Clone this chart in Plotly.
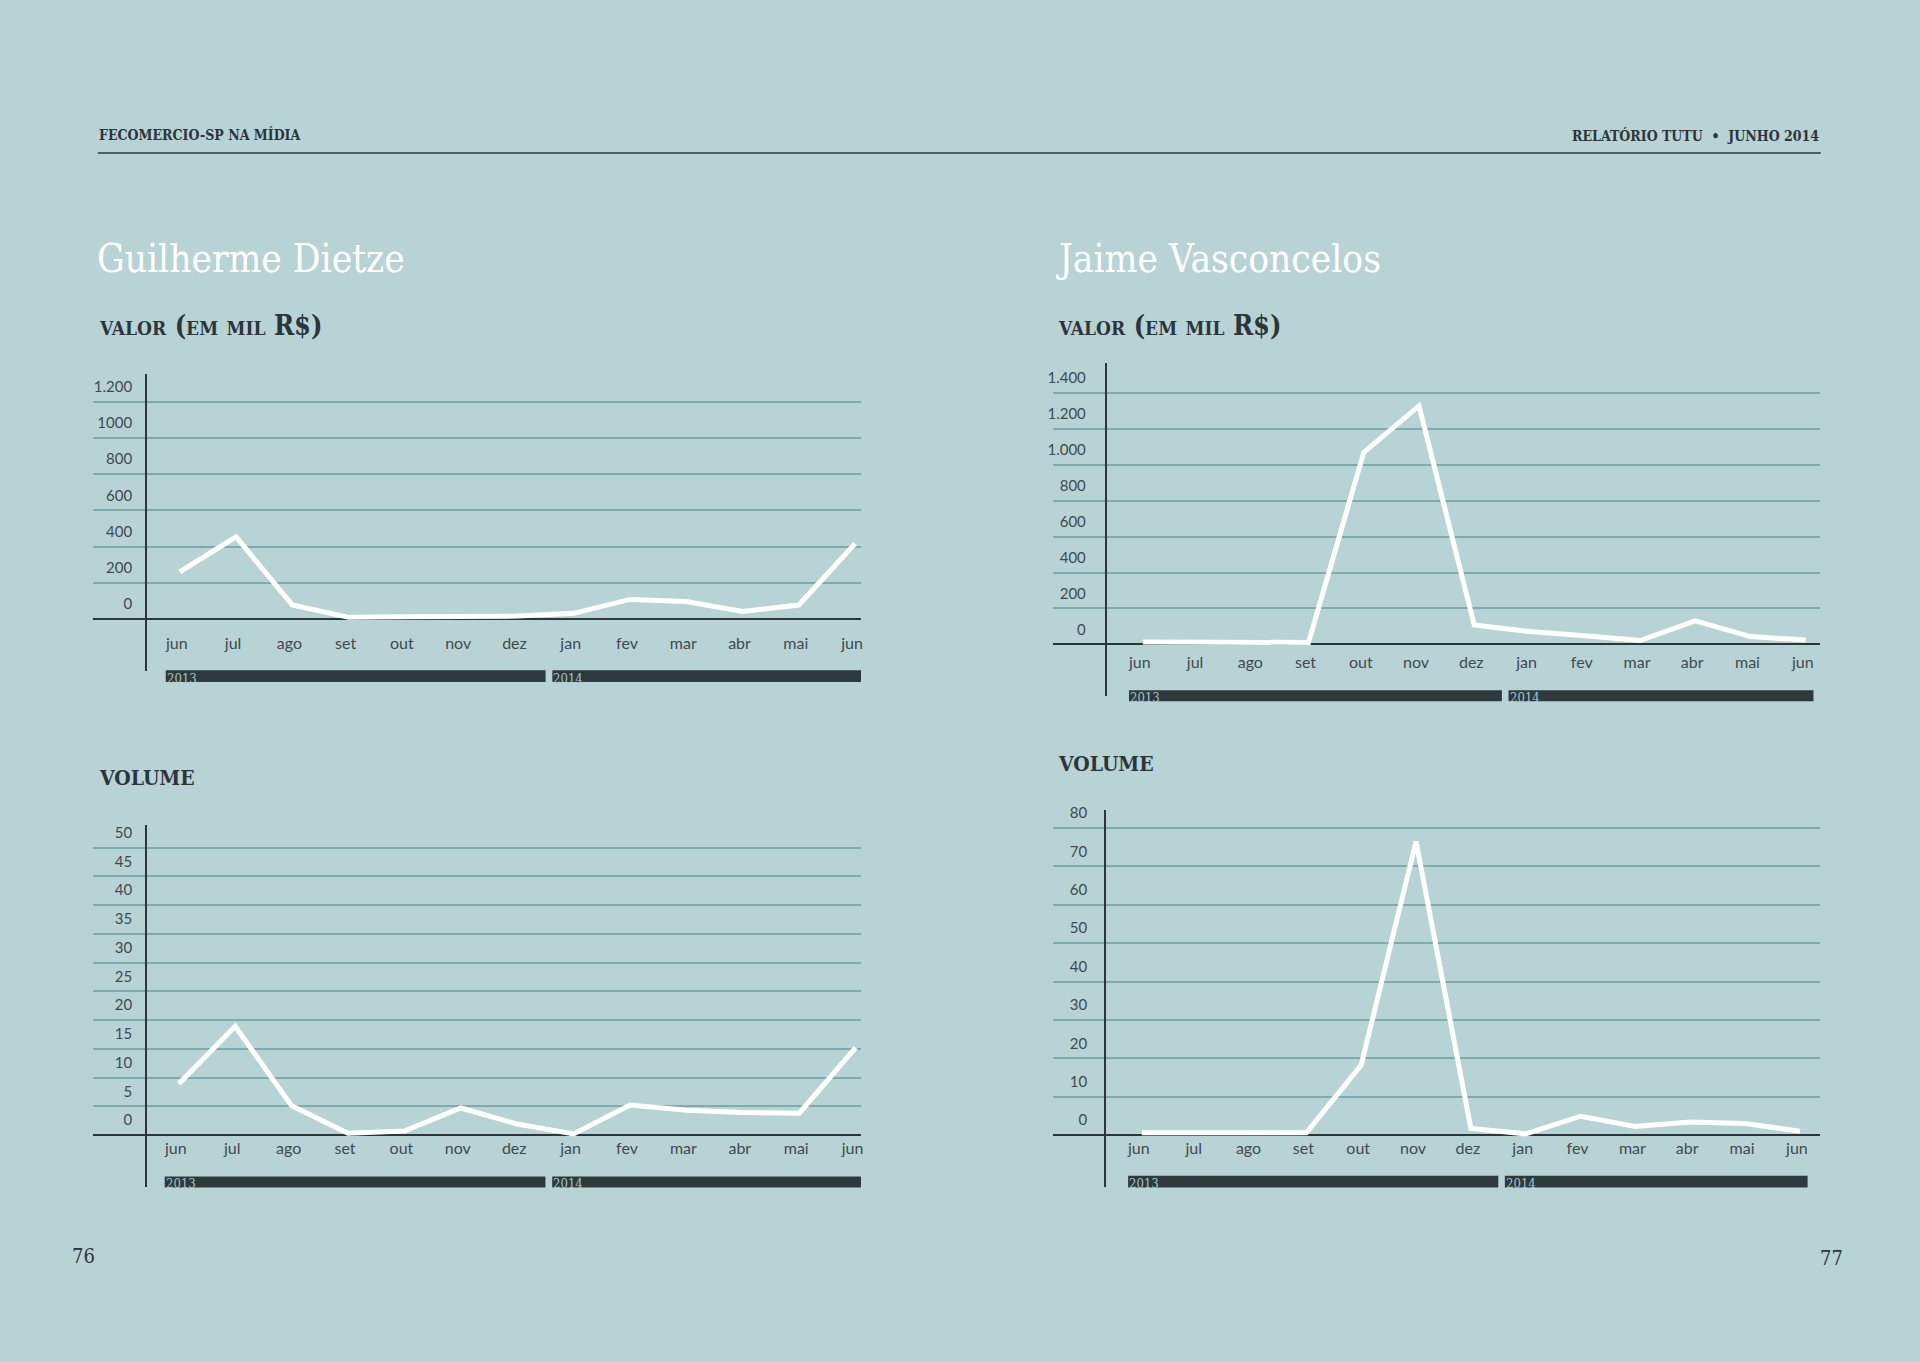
import plotly.graph_objects as go

W, H = 1920, 1362


def fx(x):
    return x / W


def fy(y):
    return 1 - y / H


# ---------------- data ----------------
months = ["jun", "jul", "ago", "set", "out", "nov", "dez",
          "jan", "fev", "mar", "abr", "mai", "jun"]
years = ["2013", "2014"]
year_first_idx = [0, 7]
year_last_idx = [6, 12]

gd_valor = [260, 453, 77, 9, 13, 13, 16, 31, 108, 96, 41, 77, 416]
gd_volume = [8.9, 18.9, 5.1, 0.3, 0.7, 4.7, 1.9, 0.2, 5.2, 4.3, 3.9, 3.8, 15.2]
jv_valor = [14, 13, 11, 11, 1068, 1326, 108, 72, 48, 22, 131, 44, 25]
jv_volume = [0.6, 0.6, 0.6, 0.6, 18.2, 76.5, 1.7, 0.3, 4.9, 2.2, 3.4, 3.0, 1.0]

gd_valor_ticks = [0, 200, 400, 600, 800, 1000, 1200]
gd_valor_labels = ["0", "200", "400", "600", "800", "1000", "1.200"]
jv_valor_ticks = [0, 200, 400, 600, 800, 1000, 1200, 1400]
jv_valor_labels = ["0", "200", "400", "600", "800", "1.000", "1.200", "1.400"]
gd_volume_ticks = [0, 5, 10, 15, 20, 25, 30, 35, 40, 45, 50]
gd_volume_labels = [str(v) for v in gd_volume_ticks]
jv_volume_ticks = [0, 10, 20, 30, 40, 50, 60, 70, 80]
jv_volume_labels = [str(v) for v in jv_volume_ticks]

# ---------------- style ----------------
BG = "#b8d3d6"
GRID = "#7eabae"
DARK = "#2c3539"
BAR = "#2e393e"
TICK = "#3f4a4e"
YEARTXT = "#a2c8cb"
SERIF = "DejaVu Serif Condensed, DejaVu Serif, serif"
SANS = "Lato, Open Sans, sans-serif"

# panel geometry in page pixels
panels = [
    dict(values=gd_valor, tv=gd_valor_ticks, tt=gd_valor_labels, topv=1200,
         left=93, right=862, axis_x=146, top=370, bottom=668, base=615.7, topv_px=397.3,
         first_x=180, step=56.33, ygap=13, xgap=27, bar_top=667.3, bar_bot=679),
    dict(values=jv_valor, tv=jv_valor_ticks, tt=jv_valor_labels, topv=1400,
         left=1054, right=1822, axis_x=1106.7, top=359, bottom=693.3, base=641.3, topv_px=388.3,
         first_x=1144, step=55.3, ygap=19, xgap=21, bar_top=687.3, bar_bot=698.3),
    dict(values=gd_volume, tv=gd_volume_ticks, tt=gd_volume_labels, topv=50,
         left=93, right=862, axis_x=146, top=822.3, bottom=1186.7, base=1134, topv_px=845.3,
         first_x=179, step=56.46, ygap=13, xgap=16, bar_top=1175.7, bar_bot=1186.7),
    dict(values=jv_volume, tv=jv_volume_ticks, tt=jv_volume_labels, topv=80,
         left=1054, right=1822, axis_x=1106, top=807.3, bottom=1186.7, base=1134, topv_px=825.7,
         first_x=1143, step=54.9, ygap=17, xgap=16, bar_top=1175, bar_bot=1186.7),
]

fig = go.Figure()
shapes = []
annotations = []
layout_axes = {}

for i, p in enumerate(panels, start=1):
    sfx = "" if i == 1 else str(i)
    xname, yname = "x" + sfx, "y" + sfx
    yscale = (p["base"] - p["topv_px"]) / p["topv"]
    yr0 = -(p["bottom"] - p["base"]) / yscale
    yr1 = (p["base"] - p["top"]) / yscale
    xr0 = (p["left"] - p["first_x"]) / p["step"]
    xr1 = (p["right"] - p["first_x"]) / p["step"]

    fig.add_trace(go.Scatter(
        x=list(range(len(months))), y=p["values"], mode="lines",
        line=dict(color="#ffffff", width=5),
        xaxis=xname, yaxis=yname, hoverinfo="skip", showlegend=False))

    layout_axes["xaxis" + sfx] = dict(
        domain=[fx(p["left"]), fx(p["right"])], range=[xr0, xr1],
        anchor="free", position=fy(p["base"]),
        showgrid=False, zeroline=False, showline=False, ticks="",
        tickmode="array", tickvals=list(range(len(months))), ticktext=months,
        tickfont=dict(family=SANS, size=16, color=TICK),
        ticklabelstandoff=int(max(0, p["xgap"] - 14)), ticklabelshift=-3,
        fixedrange=True)
    layout_axes["yaxis" + sfx] = dict(
        domain=[fy(p["bottom"]), fy(p["top"])], range=[yr0, yr1],
        anchor="free", position=fx(p["axis_x"]), side="left",
        showline=True, linecolor=DARK, linewidth=1.5,
        showgrid=True, gridcolor=GRID, gridwidth=1.5,
        zeroline=True, zerolinecolor=DARK, zerolinewidth=1.5,
        ticks="", tickmode="array", tickvals=p["tv"], ticktext=p["tt"],
        tickfont=dict(family=SANS, size=15, color=TICK),
        ticklabelshift=-15, ticklabelstandoff=int(max(0, p["ygap"] - 3)),
        fixedrange=True)

    # year bars below the month labels
    for k, yr in enumerate(years):
        x0 = year_first_idx[k] - (0.25 if k == 0 else 0.38)
        x1 = year_last_idx[k] + (0.5 if k == 0 else 0.14)
        shapes.append(dict(type="rect", xref=xname, yref="paper",
                           x0=x0, x1=x1, y0=fy(p["bar_bot"]), y1=fy(p["bar_top"]),
                           fillcolor=BAR, line=dict(width=0), layer="above"))
        annotations.append(dict(text=yr, xref=xname, yref="paper", x=x0,
                                y=fy((p["bar_top"] + p["bar_bot"]) / 2 + 2),
                                xanchor="left", yanchor="middle", showarrow=False,
                                xshift=-1,
                                font=dict(family=SERIF, size=13, color=YEARTXT)))

# header rule
shapes.append(dict(type="line", xref="paper", yref="paper",
                   x0=fx(98), x1=fx(1822.7), y0=fy(147.7), y1=fy(147.7),
                   line=dict(color=DARK, width=1.5)))


def text(t, x, y, size, color, xanchor="left", weight="normal", variant="normal", family=SERIF):
    annotations.append(dict(text=t, xref="paper", yref="paper", x=fx(x), y=fy(y),
                            xanchor=xanchor, yanchor="middle", showarrow=False,
                            font=dict(family=family, size=size, color=color,
                                      weight=weight, variant=variant)))


text("FECOMERCIO-SP NA MÍDIA", 97, 129, 14, DARK, weight="bold")
text("RELATÓRIO TUTU  •  JUNHO 2014", 1823, 130, 14, DARK, xanchor="right", weight="bold")
text("Guilherme Dietze", 95, 254, 38.5, "#ffffff")
text("Jaime Vasconcelos", 1055, 254, 38.5, "#ffffff")
text("valor (em mil R$)", 97, 321, 27, DARK, weight="bold", variant="small-caps")
text("valor (em mil R$)", 1057, 321, 27, DARK, weight="bold", variant="small-caps")
text("volume", 97, 772, 29.5, DARK, weight="bold", variant="small-caps")
text("volume", 1057, 758, 29.5, DARK, weight="bold", variant="small-caps")
text("76", 84, 1256, 20, DARK, xanchor="center")
text("77", 1833, 1258, 20, DARK, xanchor="center")

fig.update_layout(
    width=W, height=H, margin=dict(l=0, r=0, t=0, b=0),
    paper_bgcolor=BG, plot_bgcolor="rgba(0,0,0,0)",
    showlegend=False, shapes=shapes, annotations=annotations,
    **layout_axes)

fig.write_html("out.html", config={"displayModeBar": False},
               post_script="document.body.style.margin='0';document.body.style.overflow='hidden';")
